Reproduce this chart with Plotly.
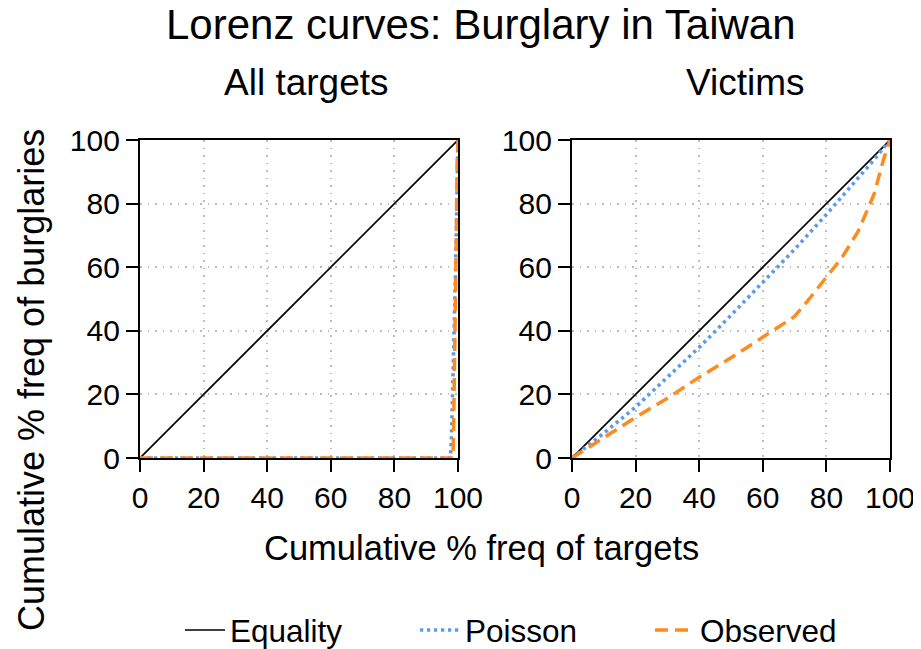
import plotly.graph_objects as go

# ---- data ----
equality_x = [0, 100]
equality_y = [0, 100]

all_poisson_x = [0, 97.6, 97.9, 98.2, 98.5, 98.9, 99.3, 99.6, 100]
all_poisson_y = [0, 0, 5, 15, 30, 45, 62, 82, 100]
all_observed_x = [0, 98.4, 98.6, 99.0, 99.3, 99.5, 99.7, 100]
all_observed_y = [0, 0, 8, 30, 51, 72, 92, 100]

vic_poisson_x = [0, 10, 20, 30, 40, 50, 60, 70, 80, 90, 95, 100]
vic_poisson_y = [0, 7.8, 16, 25.3, 34.8, 44.9, 55.3, 65.6, 76.6, 88, 93.8, 100]
vic_observed_x = [0, 5, 10, 20, 30, 40, 50, 60, 70, 75, 80, 85, 90, 95, 98, 100]
vic_observed_y = [0, 3.2, 6.2, 12.8, 18.8, 25.4, 31.5, 38.1, 44.5, 50.5, 57, 63.2, 71.3, 83, 94, 100]

tick_vals = [0, 20, 40, 60, 80, 100]
tick_text = ["0", "20", "40", "60", "80", "100"]

main_title = "Lorenz curves: Burglary in Taiwan"
panel_titles = ["All targets", "Victims"]
x_title = "Cumulative % freq of targets"
y_title = "Cumulative % freq of burglaries"
series_names = ["Equality", "Poisson", "Observed"]

# ---- styles ----
W, H = 921, 649
OFF = 8  # page body margin
BLACK = "#000000"
BLUE = "#5b9bea"
ORANGE = "#ff8a1e"
FONT = "Liberation Sans, Arial, sans-serif"

def px_x(p):
    return (p - OFF) / W

def px_y(p):
    return 1 - (p - OFF) / H

fig = go.Figure()

panels = [
    ("x", "y", all_poisson_x, all_poisson_y, all_observed_x, all_observed_y),
    ("x2", "y2", vic_poisson_x, vic_poisson_y, vic_observed_x, vic_observed_y),
]
for i, (xa, ya, px_, py_, ox, oy) in enumerate(panels):
    show = i == 0
    fig.add_trace(go.Scatter(x=equality_x, y=equality_y, mode="lines", name=series_names[0],
                             line=dict(color=BLACK, width=1.7), xaxis=xa, yaxis=ya,
                             showlegend=show, legendgroup="eq"))
    fig.add_trace(go.Scatter(x=px_, y=py_, mode="lines", name=series_names[1],
                             line=dict(color=BLUE, width=3.6, dash="3.2px,3.8px"), xaxis=xa, yaxis=ya,
                             showlegend=show, legendgroup="po"))
    fig.add_trace(go.Scatter(x=ox, y=oy, mode="lines", name=series_names[2],
                             line=dict(color=ORANGE, width=3.5, dash="13px,7px"), xaxis=xa, yaxis=ya,
                             showlegend=show, legendgroup="ob"))

axis_common = dict(
    range=[0, 100], tickvals=tick_vals, ticktext=tick_text,
    showline=True, linecolor=BLACK, linewidth=2.2, mirror=True,
    ticks="outside", ticklen=12, tickwidth=2, tickcolor=BLACK,
    showgrid=True, gridcolor="#bcbcbc", griddash="1.5px,6px", gridwidth=1.5,
    zeroline=False, tickfont=dict(family=FONT, size=30, color=BLACK),
    fixedrange=True,
)

x_dom1 = [px_x(140), px_x(458)]
x_dom2 = [px_x(572), px_x(890)]
y_dom = [px_y(458), px_y(140)]

fig.update_layout(
    width=W, height=H,
    margin=dict(l=0, r=0, t=0, b=0, autoexpand=False),
    paper_bgcolor="white", plot_bgcolor="white",
    xaxis=dict(domain=x_dom1, anchor="y", **axis_common),
    yaxis=dict(domain=y_dom, anchor="x", **axis_common),
    xaxis2=dict(domain=x_dom2, anchor="y2", **axis_common),
    yaxis2=dict(domain=y_dom, anchor="x2", **axis_common),
    showlegend=True,
    legend=dict(orientation="h", x=px_x(180), y=px_y(630), xanchor="left", yanchor="middle",
                font=dict(family=FONT, size=31.5, color=BLACK), itemwidth=40,
                entrywidth=180, entrywidthmode="pixels", bgcolor="rgba(0,0,0,0)"),
    annotations=[
        dict(text=main_title, x=px_x(481), y=px_y(25), xref="paper", yref="paper",
             showarrow=False, font=dict(family=FONT, size=42, color=BLACK),
             xanchor="center", yanchor="middle"),
        dict(text=panel_titles[0], x=px_x(306), y=px_y(82), xref="paper", yref="paper",
             showarrow=False, font=dict(family=FONT, size=37, color=BLACK),
             xanchor="center", yanchor="middle"),
        dict(text=panel_titles[1], x=px_x(745), y=px_y(82), xref="paper", yref="paper",
             showarrow=False, font=dict(family=FONT, size=37, color=BLACK),
             xanchor="center", yanchor="middle"),
        dict(text=x_title, x=px_x(481), y=px_y(548), xref="paper", yref="paper",
             showarrow=False, font=dict(family=FONT, size=34.5, color=BLACK),
             xanchor="center", yanchor="middle"),
        dict(text=y_title, x=px_x(32), y=px_y(380), xref="paper", yref="paper",
             showarrow=False, font=dict(family=FONT, size=36, color=BLACK), textangle=-90,
             xanchor="center", yanchor="middle"),
    ],
)

fig.write_html("out.html")
